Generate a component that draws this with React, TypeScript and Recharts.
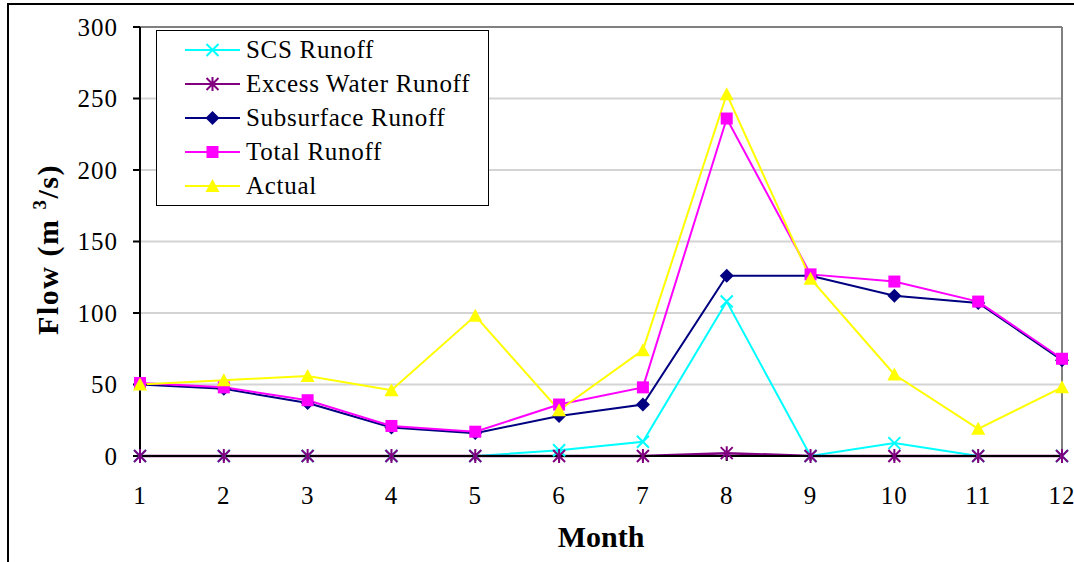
import {
  LineChart,
  Line,
  XAxis,
  YAxis,
  CartesianGrid,
  Legend,
  ReferenceLine,
} from 'recharts';

// ── Data ─────────────────────────────────────────────────────────────────────
const months      = [1, 2, 3, 4, 5, 6, 7, 8, 9, 10, 11, 12];
const scsRunoff   = [0, 0, 0, 0, 0, 4, 10, 108, 0, 9, 0, 0];
const excessWater = [0, 0, 0, 0, 0, 0, 0, 2, 0, 0, 0, 0];
const subsurface  = [50, 47, 37, 20, 16, 28, 36, 126, 126, 112, 107, 67];
const totalRunoff = [51, 48, 39, 21, 17, 36, 48, 236, 127, 122, 108, 68];
const actual      = [50, 53, 56, 46, 98, 32, 74, 253, 124, 57, 19, 48];
const yTicks      = [0, 50, 100, 150, 200, 250, 300];

const seriesKeys  = ['scs', 'excess', 'sub', 'total', 'actual'];
const seriesNames = ['SCS Runoff', 'Excess Water Runoff', 'Subsurface Runoff', 'Total Runoff', 'Actual'];

const data = months.map((m, i) => ({
  month: m,
  scs: scsRunoff[i],
  excess: excessWater[i],
  sub: subsurface[i],
  total: totalRunoff[i],
  actual: actual[i],
}));

const FONT = 'Liberation Serif, Times New Roman, serif';

const COLORS: Record<string, string> = {
  scs: '#00ffff',
  excess: '#800080',
  sub: '#000080',
  total: '#ff00ff',
  actual: '#ffff00',
};

// ── Excel-style markers ──────────────────────────────────────────────────────
const drawMarker = (key: string, cx: number, cy: number, k: string | number) => {
  const c = COLORS[key];
  switch (key) {
    case 'scs':
      return (
        <path key={k} d={`M${cx - 6},${cy - 6}L${cx + 6},${cy + 6}M${cx - 6},${cy + 6}L${cx + 6},${cy - 6}`}
          stroke={c} strokeWidth={2} fill="none" />
      );
    case 'excess':
      return (
        <path key={k}
          d={`M${cx - 6},${cy - 6}L${cx + 6},${cy + 6}M${cx - 6},${cy + 6}L${cx + 6},${cy - 6}M${cx},${cy - 7}L${cx},${cy + 7}`}
          stroke={c} strokeWidth={2} fill="none" />
      );
    case 'sub':
      return <path key={k} d={`M${cx},${cy - 7}L${cx + 7},${cy}L${cx},${cy + 7}L${cx - 7},${cy}Z`} fill={c} />;
    case 'total':
      return <rect key={k} x={cx - 6} y={cy - 6} width={12} height={12} fill={c} />;
    default:
      return <path key={k} d={`M${cx},${cy - 7}L${cx + 7},${cy + 6}L${cx - 7},${cy + 6}Z`} fill={c} />;
  }
};

const dotFor = (key: string) => (p: any) =>
  p.cx == null || p.cy == null ? null : drawMarker(key, p.cx, p.cy, `${key}-${p.index}`);

// ── Legend box ───────────────────────────────────────────────────────────────
const LegendBox = ({ payload }: any) => {
  const items = [...(payload ?? [])].sort(
    (a: any, b: any) => seriesKeys.indexOf(a.dataKey) - seriesKeys.indexOf(b.dataKey),
  );
  return (
    <div
      style={{
        boxSizing: 'border-box',
        width: 333,
        height: 176,
        border: '1px solid #000',
        background: '#fff',
        paddingTop: 2,
        fontFamily: FONT,
      }}
    >
      {items.map((entry: any) => (
        <div key={entry.dataKey} style={{ display: 'flex', alignItems: 'center', height: 34 }}>
          <svg width={89} height={34} style={{ flexShrink: 0 }}>
            <line x1={28} x2={83} y1={17} y2={17} stroke={COLORS[entry.dataKey]} strokeWidth={2} />
            {drawMarker(entry.dataKey, 55.5, 17, 'm')}
          </svg>
          <span style={{ fontFamily: FONT, fontSize: 25, letterSpacing: 0.7, color: '#000', lineHeight: '34px' }}>
            {entry.value}
          </span>
        </div>
      ))}
    </div>
  );
};

const YLabel = ({ viewBox }: any) => {
  const x = viewBox.x - 2;
  const y = viewBox.y + viewBox.height / 2 + 8;
  return (
    <text
      x={x}
      y={y}
      transform={`rotate(-90 ${x} ${y})`}
      textAnchor="middle"
      style={{ fontFamily: FONT }}
      fontSize={30}
      fontWeight="bold"
      fill="#000"
      letterSpacing={1.5}
    >
      Flow (m <tspan fontSize={19} dy={-12}>3</tspan>
      <tspan dy={12}>/s)</tspan>
    </text>
  );
};

const XLabel = ({ viewBox }: any) => (
  <text
    x={viewBox.x + viewBox.width / 2}
    y={viewBox.y + 91}
    textAnchor="middle"
    style={{ fontFamily: FONT }}
    fontSize={30}
    fontWeight="bold"
    fill="#000"
  >
    Month
  </text>
);

export default function App() {
  const tickStyle = { fill: '#000', fontSize: 25, style: { fontFamily: FONT }, letterSpacing: 1 };
  return (
    <div
      style={{
        position: 'absolute',
        left: 0,
        top: 0,
        width: 1074,
        height: 562,
        overflow: 'hidden',
        background: '#fff',
        fontFamily: FONT,
      }}
    >
      {/* outer frame (only the top and left edges show in the crop) */}
      <div
        style={{
          position: 'absolute',
          left: 7,
          top: 3,
          width: 1100,
          height: 600,
          borderLeft: '2px solid #000',
          borderTop: '2px solid #000',
        }}
      />
      <LineChart
        width={1074}
        height={562}
        data={data}
        margin={{ top: 27, right: 12, bottom: 26, left: 60 }}
        style={{ position: 'absolute', left: 0, top: 0, fontFamily: FONT }}
      >
        <CartesianGrid vertical={false} stroke="#d4d4d4" strokeWidth={2} />
        <XAxis
          dataKey="month"
          type="number"
          domain={[1, 12]}
          ticks={months}
          interval={0}
          height={80}
          stroke="#000"
          strokeWidth={2}
          tickSize={5}
          tickMargin={25}
          tick={tickStyle}
          label={<XLabel />}
        />
        <YAxis
          domain={[0, 300]}
          ticks={yTicks}
          interval={0}
          width={80}
          stroke="#000"
          strokeWidth={2}
          tickSize={7}
          tickMargin={15}
          tick={tickStyle}
          label={<YLabel />}
        />
        <ReferenceLine y={300} stroke="#808080" strokeWidth={2} />
        <ReferenceLine x={12} stroke="#808080" strokeWidth={2} />
        <Legend
          layout="horizontal"
          verticalAlign="middle"
          align="center"
          itemSorter={(item: any) => seriesKeys.indexOf(item.dataKey)}
          content={<LegendBox />}
          wrapperStyle={{ position: 'absolute', left: 156, top: 30, width: 333, height: 176 }}
        />
        {seriesKeys.map((key, i) => (
          <Line
            key={key}
            dataKey={key}
            name={seriesNames[i]}
            type="linear"
            stroke={COLORS[key]}
            strokeWidth={key === 'excess' ? 2.5 : 2}
            dot={dotFor(key)}
            activeDot={false}
            isAnimationActive={false}
          />
        ))}
      </LineChart>
    </div>
  );
}
